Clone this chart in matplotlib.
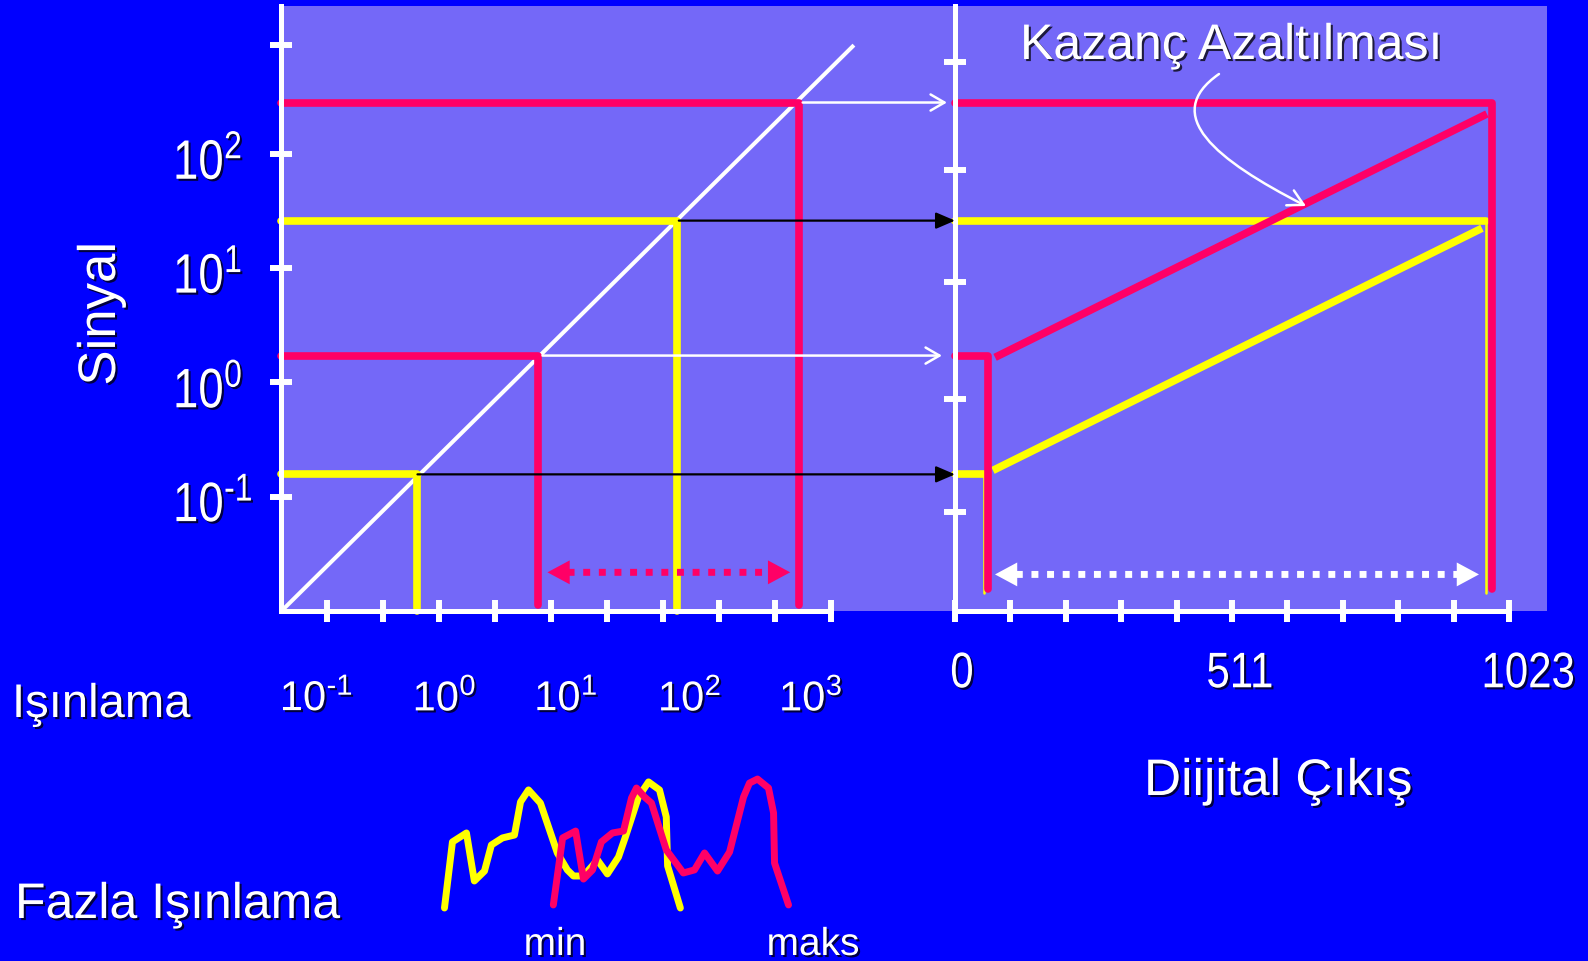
import matplotlib
matplotlib.use("Agg")
import matplotlib.pyplot as plt
from matplotlib import patheffects
from matplotlib.patches import ConnectionPatch, FancyArrowPatch
from matplotlib.path import Path
from matplotlib.ticker import FixedLocator, NullLocator, NullFormatter
from matplotlib.transforms import Affine2D

BLUE = '#0000FF'
PANEL = '#7468F8'
RED = '#FF0066'
YELLOW = '#FFFF00'
WHITE = 'white'

REG = 'Liberation Sans'
plt.rcParams['font.family'] = [REG, 'DejaVu Sans']
plt.rcParams['mathtext.fontset'] = 'custom'
plt.rcParams['mathtext.rm'] = REG
SHADOW = [patheffects.withSimplePatchShadow(offset=(1.5, -1.5), shadow_rgbFace='black', alpha=0.75)]


class Squeeze(patheffects.AbstractPathEffect):
    """Text drawn narrower (no Arial Narrow here) with a drop shadow."""

    def __init__(self, sx, dy=0.0, shadow=1.5, centre=False):
        super().__init__()
        self.sx = sx
        self.dy = dy
        self.shadow = shadow
        self.centre = centre

    def draw_path(self, renderer, gc, tpath, affine, rgbFace=None):
        cx = 0.0
        if self.centre:
            ext = tpath.get_extents()
            cx = 0.5 * (ext.x0 + ext.x1)
        squeeze = Affine2D().translate(-cx, 0).scale(self.sx, 1.0).translate(cx, 0)
        base = squeeze + affine + Affine2D().translate(0, -renderer.points_to_pixels(self.dy))
        d = renderer.points_to_pixels(self.shadow)
        gc0 = renderer.new_gc()
        gc0.copy_properties(gc)
        gc0.set_alpha(0.75)
        renderer.draw_path(gc0, tpath, base + Affine2D().translate(d, -d), (0, 0, 0))
        gc0.restore()
        renderer.draw_path(gc, tpath, base, rgbFace)


# ---- data ----
# sensor response (log-log)
curve_exposure = [0.0393, 4920]
curve_signal = [0.01, 871]
# the two read points of each gain setting
yellow_exposure = [0.643, 134.6]
yellow_signal = [0.157, 26.1]
red_exposure = [7.73, 1622]
red_signal = [1.72, 282]
# right panel, digital output
yellow_digital = [53.5, 980]
red_digital = [61, 991.5]
yellow_ramp_digital = [70, 973]
yellow_ramp_signal = [0.17, 22.4]
red_ramp_digital = [74, 982]
red_ramp_signal = [1.66, 224]
floor_left_red = 0.0112
floor_left_yellow = 0.0101
floor_right_red = 0.0155
floor_right_yellow = 0.0145
range_level_left = 0.0218
range_level_right = 0.0209

# exposure histograms (bottom)
hist_yellow_x = [1.12, 1.32, 1.76, 2.07, 2.55, 2.94, 3.69, 4.72, 5.35, 6.3, 8.05, 11.4, 14.0,
                 15.9, 19.5, 26.0, 31.9, 40.1, 46.2, 60.4, 74.3, 93.1, 107, 110, 143]
hist_yellow_y = [7.5, 48.8, 54.4, 24.4, 30.6, 46.9, 51.3, 53.1, 73.8, 81.3, 73.1, 41.9, 31.3,
                 27.5, 27.5, 37.5, 28.8, 39.4, 51.9, 76.9, 86.3, 81.3, 64.4, 33.8, 7.5]
hist_red_x = [10.5, 12.7, 16.6, 19.5, 23.5, 28.2, 35.4, 44.4, 52.4, 58.0, 68.4, 78.9, 107,
              152, 191, 235, 307, 393, 524, 592, 698, 875, 971, 991, 1321]
hist_red_y = [9.4, 51.3, 55.6, 25.6, 31.3, 48.8, 54.4, 55.6, 76.3, 82.5, 76.9, 73.1, 43.8,
              29.4, 31.3, 41.9, 30.6, 42.5, 76.9, 85.6, 88.1, 82.5, 66.9, 35.6, 9.4]

# axes ticks and labels
left_x_marks = [0.1, 0.316, 1, 3.16, 10, 31.6, 100, 316, 1000, 3162]
left_x_label_pos = [0.0805, 1.12, 13.6, 173, 2089]
left_x_labels = [r'$\mathdefault{10^{\text{-}1}}$', r'$\mathdefault{10^{0}}$', r'$\mathdefault{10^{1}}$',
                 r'$\mathdefault{10^{2}}$', r'$\mathdefault{10^{3}}$']
left_y_ticks = [0.1, 1, 10, 100, 891]
left_y_labels = [r'$\mathdefault{10^{\text{-}1}}$', r'$\mathdefault{10^{0}}$', r'$\mathdefault{10^{1}}$',
                 r'$\mathdefault{10^{2}}$', '']
right_y_ticks = [0.074, 0.72, 7.5, 72, 640]
right_x_marks = [0, 102.3, 204.6, 306.9, 409.2, 511.5, 613.8, 716.1, 818.4, 920.7, 1023]
right_x_label_pos = [12.9, 526, 1058]
right_x_labels = ['0', '511', '1023']

XLIM_L = (0.0389, 40450)
YLIM = (0.01, 1972)
XLIM_R = (0, 1093)

fig = plt.figure(figsize=(15.88, 9.61), dpi=100, facecolor=BLUE)
ax1 = fig.add_axes([0.17695, 0.36420, 0.42443, 0.62955], facecolor=PANEL)
ax2 = fig.add_axes([0.60139, 0.36420, 0.37280, 0.62955], facecolor=PANEL)
ax3 = fig.add_axes([0.17695, 0.04266, 0.42443, 0.16649])

# ---- left panel ----
ax1.set_xscale('log')
ax1.set_yscale('log')
ax1.set_xlim(*XLIM_L)
ax1.set_ylim(*YLIM)
ax1.plot(curve_exposure, curve_signal, color=WHITE, lw=2.9, zorder=2)
for exp, sig, col, floor in [(yellow_exposure, yellow_signal, YELLOW, floor_left_yellow),
                             (red_exposure, red_signal, RED, floor_left_red)]:
    for e, s in zip(exp, sig):
        ax1.plot([XLIM_L[0], e, e], [s, s, floor], color=col, lw=5.5, solid_capstyle='round',
                 solid_joinstyle='round', clip_on=False, zorder=3 if col == YELLOW else 4)

for sp in ['top', 'right']:
    ax1.spines[sp].set_visible(False)
for sp in ['left', 'bottom']:
    ax1.spines[sp].set_color(WHITE)
    ax1.spines[sp].set_linewidth(3.6)
    ax1.spines[sp].set_zorder(5)
ax1.spines['bottom'].set_bounds(XLIM_L[0], left_x_marks[-1])

ax1.xaxis.set_minor_locator(FixedLocator(left_x_marks))
ax1.xaxis.set_minor_formatter(NullFormatter())
ax1.set_xticks(left_x_label_pos, left_x_labels, color=WHITE, fontsize=30)
ax1.tick_params(axis='x', which='minor', direction='inout', length=16.5, width=4.3, color=WHITE)
ax1.tick_params(axis='x', which='major', length=0, pad=49)
ax1.yaxis.set_minor_locator(NullLocator())
ax1.set_yticks(left_y_ticks, left_y_labels, color=WHITE, fontsize=40, ha='left')
ax1.tick_params(axis='y', which='major', direction='inout', length=16.5, width=4.3, color=WHITE, pad=69.5)
for lbl in ax1.get_xticklabels():
    lbl.set_path_effects(SHADOW)
for lbl in ax1.get_yticklabels():
    lbl.set_path_effects([Squeeze(0.82, dy=3.5)])

# red dynamic range arrow (left)
ax1.annotate('', xy=(red_exposure[1], range_level_left), xytext=(red_exposure[0], range_level_left),
             arrowprops=dict(arrowstyle='<|-|>,head_length=0.8,head_width=0.43', mutation_scale=20,
                             lw=0, color=RED, shrinkA=6.5, shrinkB=6),
             annotation_clip=False, zorder=6)
ax1.annotate('', xy=(red_exposure[1], range_level_left), xytext=(red_exposure[0], range_level_left),
             arrowprops=dict(arrowstyle='-', lw=5, color=RED, ls=(0, (1, 1.25)), capstyle='butt',
                             shrinkA=21, shrinkB=21),
             annotation_clip=False, zorder=6)

# ---- right panel ----
ax2.set_yscale('log')
ax2.set_xlim(*XLIM_R)
ax2.set_ylim(*YLIM)
for d, s in zip(red_digital, red_signal):
    ax2.plot([0, d, d], [s, s, floor_right_red], color=RED, lw=5.5, solid_capstyle='round',
             solid_joinstyle='round', clip_on=False, zorder=4)
for d, s in zip(yellow_digital, yellow_signal):
    ax2.plot([0, d], [s, s], color=YELLOW, lw=5.5, solid_capstyle='round', clip_on=False, zorder=3)
    ax2.plot([d, d], [s, floor_right_yellow], color=YELLOW, lw=1.8, solid_capstyle='round', zorder=3)
ax2.plot(yellow_ramp_digital, yellow_ramp_signal, color=YELLOW, lw=5.5, solid_capstyle='butt', zorder=3)
ax2.plot(red_ramp_digital, red_ramp_signal, color=RED, lw=5.5, solid_capstyle='butt', zorder=4)

for sp in ['top', 'right']:
    ax2.spines[sp].set_visible(False)
for sp in ['left', 'bottom']:
    ax2.spines[sp].set_color(WHITE)
    ax2.spines[sp].set_linewidth(3.6)
    ax2.spines[sp].set_zorder(5)
ax2.spines['bottom'].set_bounds(0, right_x_marks[-1])
ax2.xaxis.set_minor_locator(FixedLocator(right_x_marks))
ax2.set_xticks(right_x_label_pos, right_x_labels, color=WHITE, fontsize=36)
ax2.tick_params(axis='x', which='minor', direction='inout', length=16.5, width=4.3, color=WHITE)
ax2.tick_params(axis='x', which='major', length=0, pad=29)
ax2.yaxis.set_minor_locator(NullLocator())
ax2.set_yticks(right_y_ticks, [''] * len(right_y_ticks))
ax2.tick_params(axis='y', which='major', direction='inout', length=16.5, width=4.3, color=WHITE)
for lbl in ax2.get_xticklabels():
    lbl.set_path_effects([Squeeze(0.84, centre=True)])

# white range arrow (right)
ax2.annotate('', xy=(red_digital[1], range_level_right), xytext=(red_digital[0], range_level_right),
             arrowprops=dict(arrowstyle='<|-|>,head_length=0.8,head_width=0.43', mutation_scale=20,
                             lw=0, color=WHITE, shrinkA=5, shrinkB=9.4),
             annotation_clip=False, zorder=6)
ax2.annotate('', xy=(red_digital[1], range_level_right), xytext=(red_digital[0], range_level_right),
             arrowprops=dict(arrowstyle='-', lw=5, color=WHITE, ls=(0, (1, 1.25)), capstyle='butt',
                             shrinkA=20, shrinkB=24),
             annotation_clip=False, zorder=6)

# callout for gain reduction
callout = Path([(0.4459, 0.8876), (0.3463, 0.8198), (0.4409, 0.7455), (0.5929, 0.6694)],
               [Path.MOVETO, Path.CURVE4, Path.CURVE4, Path.CURVE4])
ax2.add_patch(FancyArrowPatch(path=callout, transform=ax2.transAxes,
                              arrowstyle='->,head_length=0.55,head_width=0.3', mutation_scale=20,
                              color=WHITE, lw=1.8, zorder=7))

# ---- level transfer arrows between panels ----
transfers = [(red_exposure[1], red_signal[1], WHITE, 3, 5.8),
             (yellow_exposure[1], yellow_signal[1], 'black', 1, 0),
             (red_exposure[0], red_signal[0], WHITE, 3, 9.4),
             (yellow_exposure[0], yellow_signal[0], 'black', 0, 0)]
for e, s, col, sa, sb in transfers:
    style = ('->,head_length=0.5,head_width=0.29' if col == WHITE
             else '-|>,head_length=0.58,head_width=0.25')
    con = ConnectionPatch(xyA=(e, s), coordsA='data', axesA=ax1,
                          xyB=(0, s), coordsB='data', axesB=ax2,
                          arrowstyle=style, mutation_scale=20, color=col,
                          lw=1.8 if col == WHITE else 1.6, shrinkA=sa, shrinkB=sb, zorder=6)
    fig.add_artist(con)

# ---- exposure histograms ----
ax3.set_xscale('log')
ax3.set_xlim(*XLIM_L)
ax3.set_ylim(0, 100)
ax3.axis('off')
ax3.plot(hist_yellow_x, hist_yellow_y, color=YELLOW, lw=5, solid_joinstyle='round',
         solid_capstyle='round', clip_on=False)
ax3.plot(hist_red_x, hist_red_y, color=RED, lw=5, solid_joinstyle='round',
         solid_capstyle='round', clip_on=False)

# ---- texts ----
def label(x, y, s, size, **kw):
    fig.text(x, y, s, color=WHITE, fontsize=size, path_effects=SHADOW, **kw)


label(0.0636, 0.6733, 'Sinyal', 38, rotation=90, ha='center', va='center')
label(12 / 1588, 1 - 717 / 961, 'Işınlama', 34, ha='left', va='baseline')
label(15 / 1588, 1 - 918 / 961, 'Fazla Işınlama', 36, ha='left', va='baseline')
label(1020 / 1588, 1 - 59 / 961, 'Kazanç Azaltılması', 36, ha='left', va='baseline')
label(1144 / 1588, 1 - 795 / 961, 'Diijital Çıkış', 37, ha='left', va='baseline')
label(555 / 1588, 1 - 955 / 961, 'min', 28, ha='center', va='baseline')
label(813 / 1588, 1 - 955 / 961, 'maks', 28, ha='center', va='baseline')

fig.savefig('out.png', dpi=100, facecolor=BLUE)
